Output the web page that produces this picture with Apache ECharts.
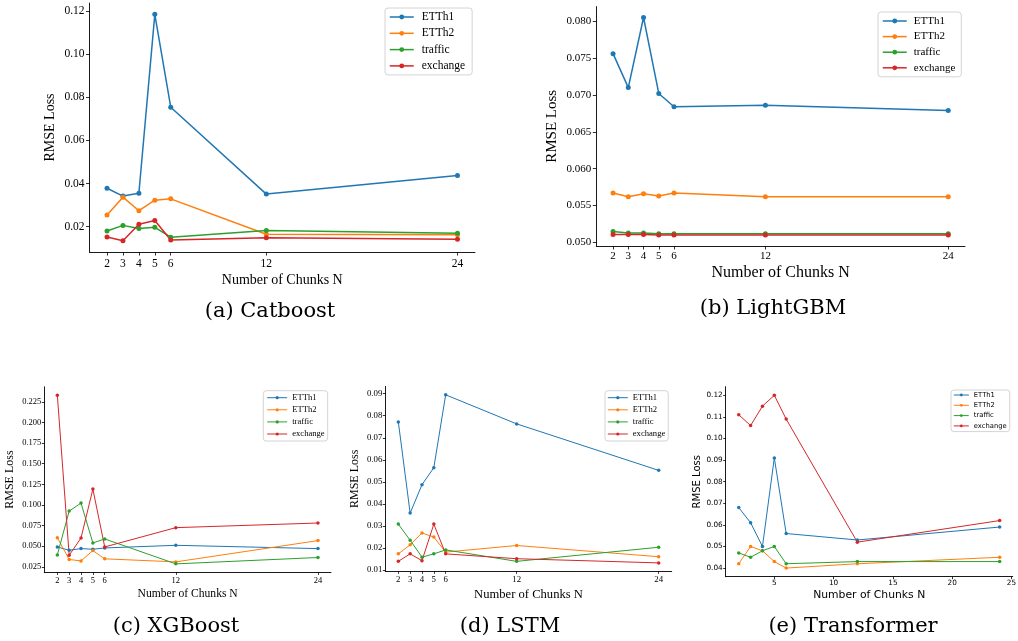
<!DOCTYPE html>
<html><head><meta charset="utf-8">
<script src="https://cdn.jsdelivr.net/npm/echarts@6/dist/echarts.min.js"></script>
<style>html,body{margin:0;padding:0;background:#fff}#c{width:1018px;height:641px}</style>
</head><body><div id="c"></div>
<script>
// ---- data ----
const chunksN = [2, 3, 4, 5, 6, 12, 24];
const seriesNames = ['ETTh1', 'ETTh2', 'traffic', 'exchange'];

const catboostETTh1    = [0.0378, 0.0342, 0.0355, 0.1185, 0.0754, 0.0351, 0.0437];
const catboostETTh2    = [0.0254, 0.0337, 0.0274, 0.0323, 0.0329, 0.0165, 0.0162];
const catboostTraffic  = [0.0180, 0.0206, 0.0192, 0.0197, 0.0151, 0.0182, 0.0169];
const catboostExchange = [0.0152, 0.0135, 0.0211, 0.0229, 0.0138, 0.0149, 0.0142];

const lightgbmETTh1    = [0.0756, 0.0710, 0.0805, 0.0702, 0.0684, 0.0686, 0.0679];
const lightgbmETTh2    = [0.0567, 0.0562, 0.0566, 0.0563, 0.0567, 0.0562, 0.0562];
const lightgbmTraffic  = [0.0515, 0.0513, 0.0513, 0.0512, 0.0512, 0.0512, 0.0512];
const lightgbmExchange = [0.0511, 0.0511, 0.0511, 0.0510, 0.0510, 0.0510, 0.0510];

const xgboostETTh1    = [0.0491, 0.0451, 0.0471, 0.0463, 0.0479, 0.0511, 0.0471];
const xgboostETTh2    = [0.0604, 0.0339, 0.0322, 0.0447, 0.0347, 0.0310, 0.0568];
const xgboostTraffic  = [0.0395, 0.0926, 0.1023, 0.0540, 0.0588, 0.0286, 0.0363];
const xgboostExchange = [0.2330, 0.0390, 0.0600, 0.1192, 0.0491, 0.0725, 0.0781];

const lstmETTh1    = [0.0772, 0.0358, 0.0487, 0.0564, 0.0895, 0.0763, 0.0552];
const lstmETTh2    = [0.0173, 0.0214, 0.0268, 0.0249, 0.0181, 0.0211, 0.0160];
const lstmTraffic  = [0.0308, 0.0235, 0.0158, 0.0173, 0.0191, 0.0139, 0.0203];
const lstmExchange = [0.0139, 0.0173, 0.0142, 0.0308, 0.0173, 0.0151, 0.0132];

const transformerETTh1    = [0.068, 0.061, 0.050, 0.091, 0.056, 0.053, 0.059];
const transformerETTh2    = [0.042, 0.050, 0.048, 0.043, 0.040, 0.042, 0.045];
const transformerTraffic  = [0.047, 0.045, 0.048, 0.050, 0.042, 0.043, 0.043];
const transformerExchange = [0.111, 0.106, 0.115, 0.120, 0.109, 0.052, 0.062];

// tick labels
const chunkTicks       = [2, 3, 4, 5, 6, 12, 24];
const transformerXTicks = [5, 10, 15, 20, 25];
const catboostYTicks    = [0.02, 0.04, 0.06, 0.08, 0.10, 0.12];
const lightgbmYTicks    = [0.050, 0.055, 0.060, 0.065, 0.070, 0.075, 0.080];
const xgboostYTicks     = [0.025, 0.050, 0.075, 0.100, 0.125, 0.150, 0.175, 0.200, 0.225];
const lstmYTicks        = [0.01, 0.02, 0.03, 0.04, 0.05, 0.06, 0.07, 0.08, 0.09];
const transformerYTicks = [0.04, 0.05, 0.06, 0.07, 0.08, 0.09, 0.10, 0.11, 0.12];

const captions = ['(a) Catboost', '(b) LightGBM', '(c) XGBoost', '(d) LSTM', '(e) Transformer'];

// ---- layout / styles ----
const colors = ['#1f77b4', '#ff7f0e', '#2ca02c', '#d62728'];
const SERIF = 'Liberation Serif';
const SANS = 'DejaVu Sans';

const panels = [
  { data: [catboostETTh1, catboostETTh2, catboostTraffic, catboostExchange], yTicks: catboostYTicks, dec: 2, xTicks: chunkTicks,
    grid: { left: 89.5, top: 3, width: 385.5, height: 249 }, font: SERIF, tickFs: 11.5, nameFs: 14, yNameFs: 14,
    xNameGap: 21, yNameGap: 32, xLabelMargin: 6, yLabelMargin: 5, tickLen: 3.5, lw: 1.5, sym: 5,
    legend: { left: 385, top: 8, fs: 11.5, lh: 12, gap: 4.3, iw: 24, ih: 6, pad: [3, 7, 3, 4], tpad: 3 },
    cap: { x: 270, y: 312 } },
  { data: [lightgbmETTh1, lightgbmETTh2, lightgbmTraffic, lightgbmExchange], yTicks: lightgbmYTicks, dec: 3, xTicks: chunkTicks,
    grid: { left: 596.3, top: 6.6, width: 368.7, height: 239.4 }, font: SERIF, tickFs: 11, nameFs: 16, yNameFs: 15,
    xNameGap: 19, yNameGap: 37, xLabelMargin: 5, yLabelMargin: 5, tickLen: 3.5, lw: 1.5, sym: 5,
    legend: { left: 878, top: 12, fs: 11, lh: 12, gap: 3.6, iw: 24, ih: 6, pad: [3, 6, 3, 4], tpad: 2 },
    cap: { x: 773, y: 309 } },
  { data: [xgboostETTh1, xgboostETTh2, xgboostTraffic, xgboostExchange], yTicks: xgboostYTicks, dec: 3, xTicks: chunkTicks,
    grid: { left: 44.3, top: 386.8, width: 286.7, height: 185.5 }, font: SERIF, tickFs: 8.5, nameFs: 11.6, yNameFs: 12,
    xNameGap: 16, yNameGap: 28, xLabelMargin: 4, yLabelMargin: 3, tickLen: 2.5, lw: 1, sym: 3.5,
    legend: { left: 263.3, top: 390.7, fs: 8.6, lh: 9, gap: 3.1, iw: 20, ih: 4, pad: [2.5, 3, 2.5, 3.4], tpad: 0 },
    cap: { x: 176, y: 627 } },
  { data: [lstmETTh1, lstmETTh2, lstmTraffic, lstmExchange], yTicks: lstmYTicks, dec: 2, xTicks: chunkTicks,
    grid: { left: 385.3, top: 386.4, width: 286.4, height: 184.9 }, font: SERIF, tickFs: 8.8, nameFs: 12.6, yNameFs: 12,
    xNameGap: 17, yNameGap: 24, xLabelMargin: 4, yLabelMargin: 3, tickLen: 2.5, lw: 1, sym: 3.5,
    legend: { left: 605, top: 390.7, fs: 8.6, lh: 9, gap: 3.1, iw: 20, ih: 4, pad: [2.5, 3, 2.5, 2.3], tpad: 0 },
    cap: { x: 510, y: 627 } },
  { data: [transformerETTh1, transformerETTh2, transformerTraffic, transformerExchange], yTicks: transformerYTicks, dec: 2, xTicks: transformerXTicks,
    grid: { left: 725.7, top: 386.7, width: 287, height: 190 }, font: SANS, tickFs: 7.3, nameFs: 10.8, yNameFs: 10,
    xNameGap: 13, yNameGap: 23, xLabelMargin: 3, yLabelMargin: 3, tickLen: 2.5, lw: 1, sym: 3.5,
    legend: { left: 951, top: 390, fs: 6.8, lh: 8, gap: 2.3, iw: 15, ih: 3.5, pad: [1, 3, 1.7, 2.3], tpad: 0 },
    cap: { x: 853, y: 627 } }
];

function niceRange(arrs) {
  let lo = Infinity, hi = -Infinity;
  arrs.forEach(a => a.forEach(v => { lo = Math.min(lo, v); hi = Math.max(hi, v); }));
  const m = (hi - lo) * 0.05;
  return [lo - m, hi + m];
}
const xLo = chunksN[0] - (chunksN[chunksN.length - 1] - chunksN[0]) * 0.05;
const xHi = chunksN[chunksN.length - 1] + (chunksN[chunksN.length - 1] - chunksN[0]) * 0.05;

const grids = [], xAxes = [], yAxes = [], series = [], legends = [], graphics = [];
panels.forEach((p, i) => {
  grids.push(Object.assign({ containLabel: false, outerBoundsMode: 'none' }, p.grid));
  const axisLine = { show: true, lineStyle: { color: '#000', width: 0.9 } };
  xAxes.push({
    type: 'value', gridIndex: i, min: xLo, max: xHi,
    name: 'Number of Chunks N', nameLocation: 'middle', nameGap: p.xNameGap,
    nameTextStyle: { fontFamily: p.font, fontSize: p.nameFs, color: '#000' },
    axisLine: axisLine,
    axisTick: { show: true, customValues: p.xTicks, length: p.tickLen, lineStyle: { color: '#000', width: 0.8 } },
    axisLabel: { customValues: p.xTicks, fontFamily: p.font, fontSize: p.tickFs, color: '#000', margin: p.xLabelMargin },
    splitLine: { show: false }
  });
  const yr = niceRange(p.data);
  yAxes.push({
    type: 'value', gridIndex: i, min: yr[0], max: yr[1],
    name: 'RMSE Loss', nameLocation: 'middle', nameGap: p.yNameGap, nameRotate: 90,
    nameTextStyle: { fontFamily: p.font, fontSize: p.yNameFs, color: '#000' },
    axisLine: axisLine,
    axisTick: { show: true, customValues: p.yTicks, length: p.tickLen, lineStyle: { color: '#000', width: 0.8 } },
    axisLabel: { customValues: p.yTicks, fontFamily: p.font, fontSize: p.tickFs, color: '#000', margin: p.yLabelMargin,
      formatter: v => Number(v).toFixed(p.dec) },
    splitLine: { show: false }
  });
  p.data.forEach((arr, k) => {
    series.push({
      type: 'line', name: seriesNames[k], xAxisIndex: i, yAxisIndex: i,
      data: chunksN.map((n, j) => [n, arr[j]]),
      symbol: 'circle', symbolSize: p.sym, showSymbol: true,
      lineStyle: { color: colors[k], width: p.lw },
      itemStyle: { color: colors[k] },
      emphasis: { disabled: true }, animation: false
    });
  });
  const L = p.legend;
  legends.push({
    data: seriesNames, orient: 'vertical', left: L.left, top: L.top,
    itemWidth: L.iw, itemHeight: L.ih, itemGap: L.gap, padding: L.pad,
    backgroundColor: 'rgba(255,255,255,0.85)', borderColor: '#d4d4d4', borderWidth: 1, borderRadius: 3,
    textStyle: { fontFamily: p.font, fontSize: L.fs, lineHeight: L.lh, color: '#000', padding: [0, 0, 0, L.tpad] },
    lineStyle: { width: p.lw }, selectedMode: false
  });
  graphics.push({
    type: 'text', x: p.cap.x, y: p.cap.y,
    style: { text: captions[i], align: 'center', verticalAlign: 'middle',
      fontFamily: 'DejaVu Serif', fontSize: 21, fill: '#000' }
  });
});

const chart = echarts.init(document.getElementById('c'), null, { renderer: 'canvas' });
chart.setOption({
  animation: false, color: colors, backgroundColor: '#fff',
  grid: grids, xAxis: xAxes, yAxis: yAxes, series: series, legend: legends, graphic: graphics
});
</script></body></html>
